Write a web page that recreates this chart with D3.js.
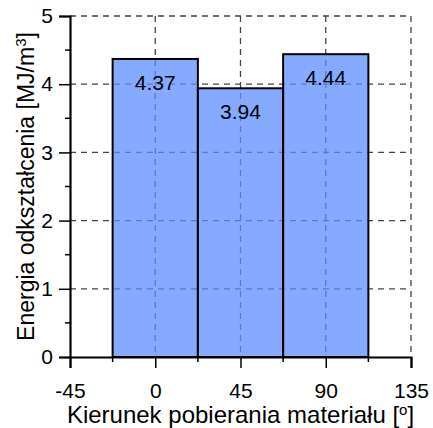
<!DOCTYPE html>
<html>
<head>
<meta charset="utf-8">
<script src="https://cdn.jsdelivr.net/npm/d3@7"></script>
<style>
  body { margin: 0; background: #fff; }
  text { font-family: "Liberation Sans", Arial, sans-serif; fill: #000; }
</style>
</head>
<body>
<div id="chart"></div>
<script>
// chart data
var directions = [0, 45, 90];
var energies = [4.37, 3.94, 4.44];
var xTicks = [-45, 0, 45, 90, 135];
var xMinorTicks = [-22.5, 22.5, 67.5, 112.5];
var yTicks = [0, 1, 2, 3, 4, 5];
var yMinorTicks = [0.5, 1.5, 2.5, 3.5, 4.5];

var svgWidth = 433;
var svgHeight = 428;
var margin = { top: 16, right: 22, bottom: 71, left: 70 };
var width = svgWidth - margin.left - margin.right;
var height = svgHeight - margin.top - margin.bottom;

var svg = d3.select("#chart")
    .append("svg")
    .attr("width", svgWidth)
    .attr("height", svgHeight);

var chartGroup = svg.append("g")
    .attr("transform", `translate(${margin.left}, ${margin.top})`);

var xScale = d3.scaleLinear().domain([-45, 135]).range([0, width]);
var yScale = d3.scaleLinear().domain([0, 5]).range([height, 0]);
var barWidth = xScale(45) - xScale(0);

// dashed grid (incl. top / right frame)
var grid = chartGroup.append("g")
    .attr("stroke", "#444")
    .attr("stroke-width", 1.3)
    .attr("stroke-dasharray", "6,5");
grid.selectAll(".vgrid")
    .data([0, 45, 90, 135])
    .enter().append("line")
    .attr("x1", d => xScale(d)).attr("x2", d => xScale(d))
    .attr("y1", yScale(5)).attr("y2", yScale(0));
grid.selectAll(".hgrid")
    .data([1, 2, 3, 4, 5])
    .enter().append("line")
    .attr("x1", xScale(-45)).attr("x2", xScale(135))
    .attr("y1", d => yScale(d)).attr("y2", d => yScale(d));

// bars
chartGroup.selectAll(".bar")
    .data(energies)
    .enter()
    .append("rect")
    .attr("x", (d, i) => xScale(directions[i]) - barWidth / 2)
    .attr("y", d => yScale(d))
    .attr("width", barWidth)
    .attr("height", d => yScale(0) - yScale(d))
    .attr("fill", "rgb(92,142,255)")
    .attr("fill-opacity", 0.75)
    .attr("stroke", "#000")
    .attr("stroke-width", 2);

// value labels
chartGroup.selectAll(".val")
    .data(energies)
    .enter()
    .append("text")
    .attr("x", (d, i) => xScale(directions[i]))
    .attr("y", d => yScale(d) + 31)
    .attr("text-anchor", "middle")
    .style("font-size", "21px")
    .text(d => d.toFixed(2));

// axes
var bottomAxis = d3.axisBottom(xScale).tickValues(xTicks)
    .tickFormat(d => String(d)).tickSize(11).tickPadding(15);
var leftAxis = d3.axisLeft(yScale).tickValues(yTicks)
    .tickFormat(d => String(d)).tickSize(11).tickPadding(6);

var xAxisG = chartGroup.append("g")
    .attr("transform", `translate(0, ${height})`)
    .call(bottomAxis);
xAxisG.selectAll(".minor")
    .data(xMinorTicks)
    .enter().append("line")
    .attr("x1", d => xScale(d)).attr("x2", d => xScale(d))
    .attr("y1", 0).attr("y2", 5)
    .attr("stroke", "#000").attr("stroke-width", 1.5);

var yAxisG = chartGroup.append("g")
    .call(leftAxis);
yAxisG.selectAll(".minor")
    .data(yMinorTicks)
    .enter().append("line")
    .attr("x1", -5).attr("x2", 0)
    .attr("y1", d => yScale(d)).attr("y2", d => yScale(d))
    .attr("stroke", "#000").attr("stroke-width", 1.5);

[xAxisG, yAxisG].forEach(function(g) {
    g.select(".domain").attr("stroke-width", 2.2);
    g.selectAll(".tick line").attr("stroke-width", 1.5);
    g.selectAll("text")
        .style("font-size", "21px")
        .style("font-family", "'Liberation Sans', Arial, sans-serif");
});

// axis labels
var xLabel = chartGroup.append("text")
    .attr("x", width / 2)
    .attr("y", height + 66)
    .attr("text-anchor", "middle")
    .style("font-size", "24px");
xLabel.append("tspan").text("Kierunek pobierania materiału [");
xLabel.append("tspan").attr("dy", -8).style("font-size", "15px").text("o");
xLabel.append("tspan").attr("dy", 8).text("]");

var yLabel = chartGroup.append("text")
    .attr("transform", "rotate(-90)")
    .attr("x", 0 - height / 2)
    .attr("y", 34 - margin.left)
    .attr("text-anchor", "middle")
    .style("font-size", "23px");
yLabel.append("tspan").text("Energia odkształcenia [MJ/m");
yLabel.append("tspan").attr("dy", -8).style("font-size", "15px").text("3");
yLabel.append("tspan").attr("dy", 8).text("]");
</script>
</body>
</html>
